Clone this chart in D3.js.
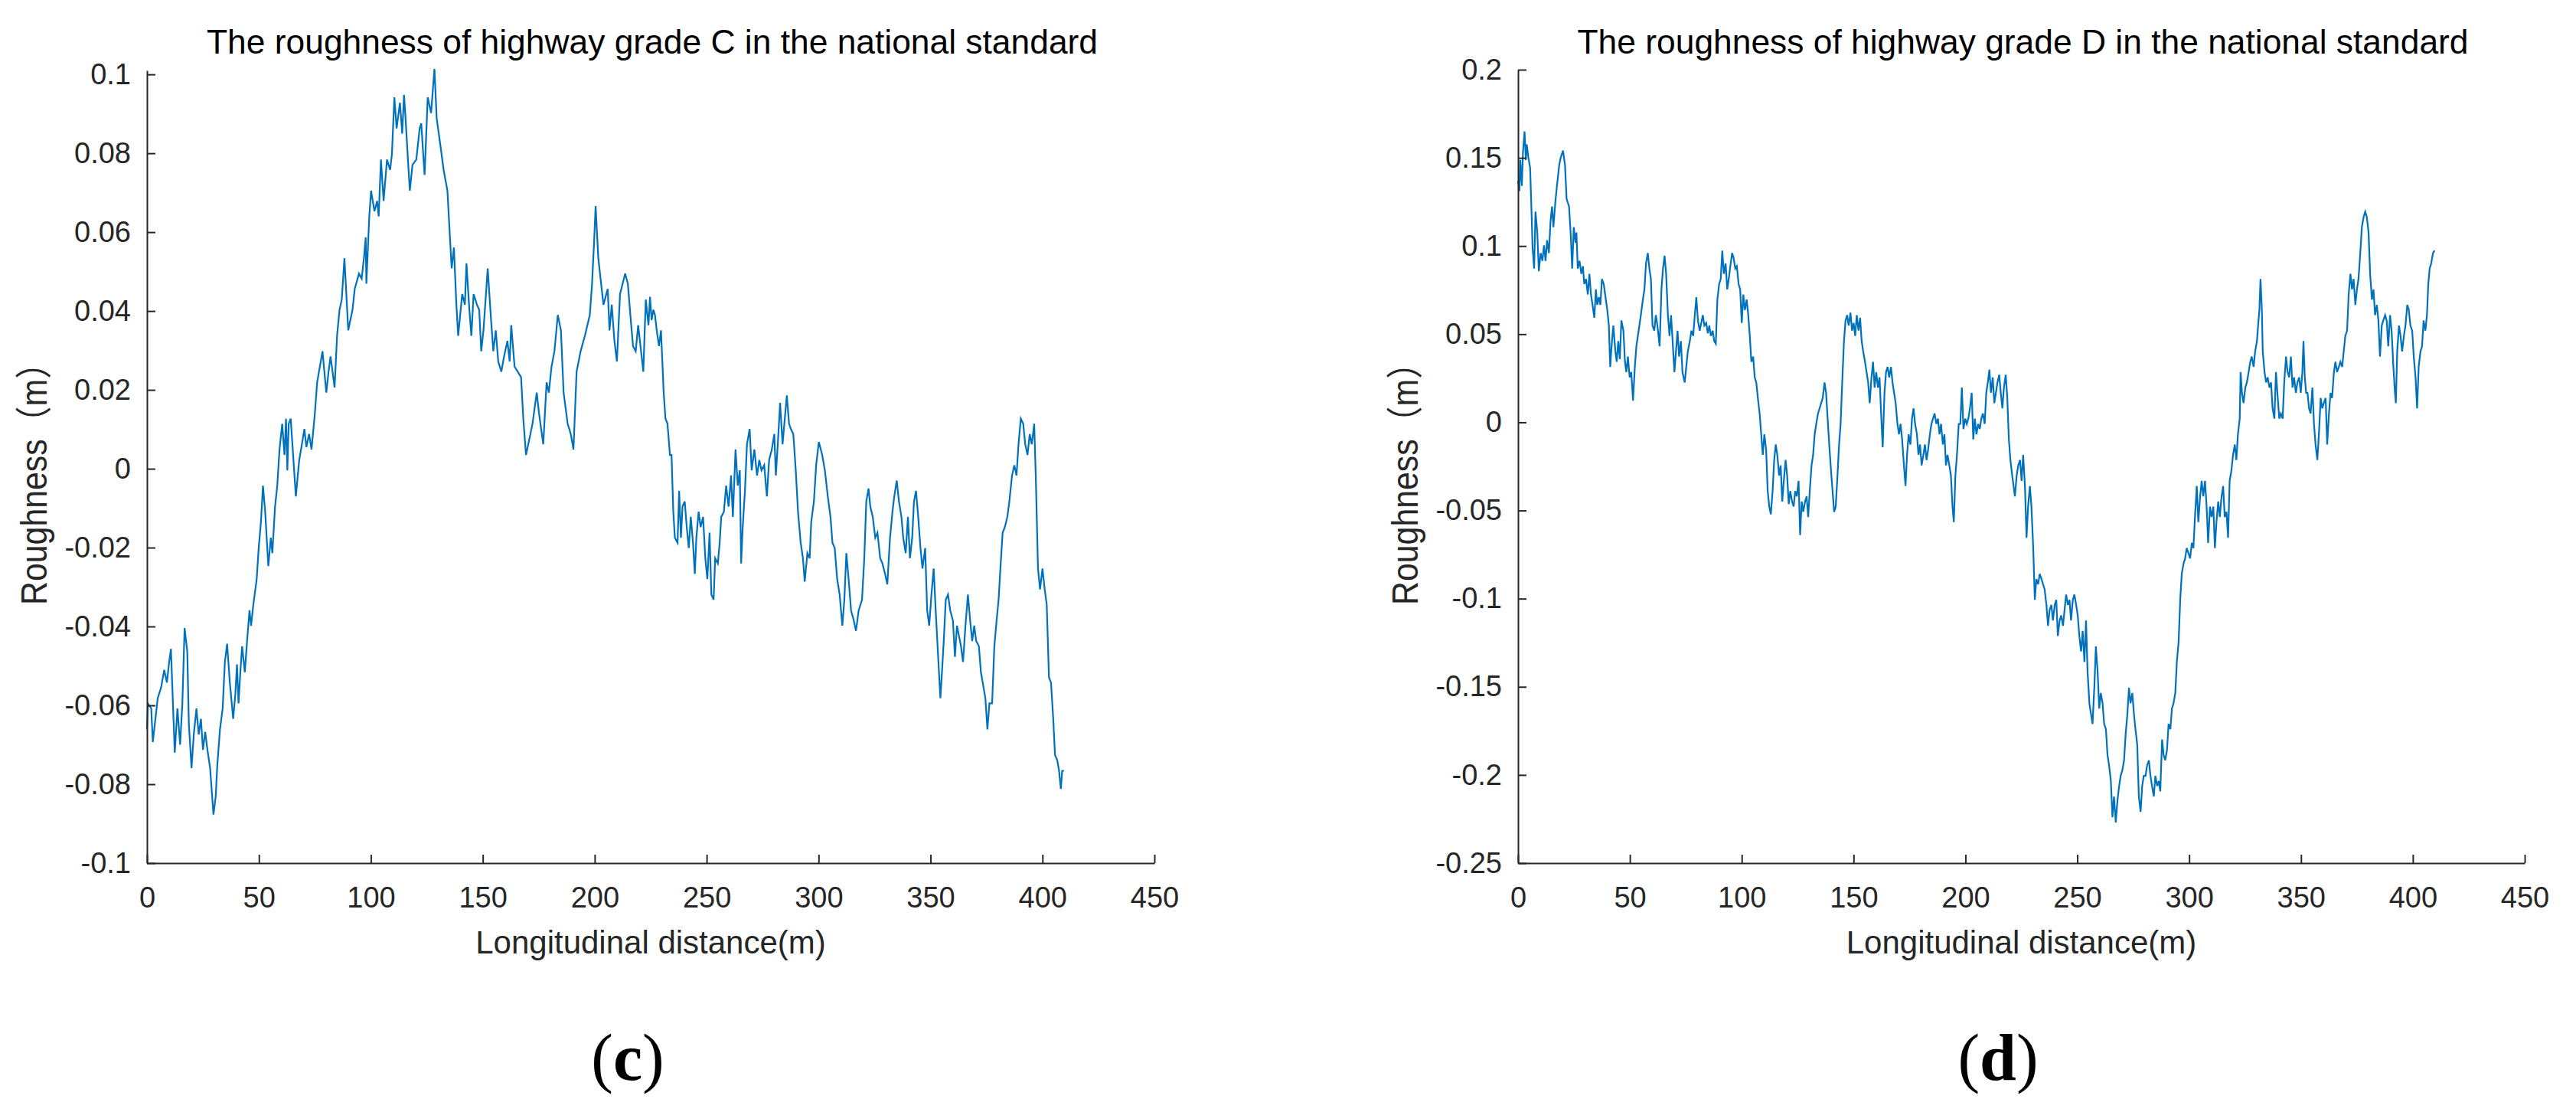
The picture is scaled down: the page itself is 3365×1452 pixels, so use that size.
<!DOCTYPE html>
<html><head><meta charset="utf-8">
<script src="https://cdn.jsdelivr.net/npm/d3@7"></script>
<style>
html,body{margin:0;padding:0;background:#fff;}
svg{display:block;}
</style></head>
<body>
<svg id="chart" width="3365" height="1452"></svg>
<script>
// ---------- data ----------
const xTicks = [0, 50, 100, 150, 200, 250, 300, 350, 400, 450];
const cTicks = [-0.1, -0.08, -0.06, -0.04, -0.02, 0, 0.02, 0.04, 0.06, 0.08, 0.1];
const dTicks = [-0.25, -0.2, -0.15, -0.1, -0.05, 0, 0.05, 0.1, 0.15, 0.2];
const titles = ["The roughness of highway grade C in the national standard",
                "The roughness of highway grade D in the national standard"];
const xLabel = "Longitudinal distance(m)";
const yLabel = "Roughness（m）";
const panelLetters = ["c", "d"];

// [longitudinal distance (m), roughness (m)]
const gradeC = [[0,-0.0661],[0.4,-0.0595],[1.9,-0.0608],[2.6,-0.0693],[4.8,-0.0582],[6.3,-0.0555],[7.7,-0.051],[8.9,-0.0542],[9.9,-0.049],[10.7,-0.0457],[12.4,-0.072],[13.6,-0.0608],[14.8,-0.07],[15.8,-0.0595],[16.8,-0.0404],[18,-0.0464],[18.7,-0.0647],[19.9,-0.0759],[20.9,-0.0674],[22.1,-0.0608],[23.1,-0.0674],[24.1,-0.0634],[25,-0.0713],[26,-0.0667],[27,-0.0713],[28.2,-0.0759],[29.7,-0.0877],[30.7,-0.0831],[31.4,-0.0752],[32.6,-0.0661],[33.8,-0.0608],[34.8,-0.049],[35.8,-0.0444],[37,-0.0542],[38.5,-0.0634],[39.5,-0.0569],[40.2,-0.0496],[40.9,-0.0595],[41.7,-0.0516],[42.5,-0.045],[43.7,-0.0516],[44.7,-0.0437],[45.8,-0.0359],[46.5,-0.0398],[47.5,-0.0345],[49,-0.028],[49.9,-0.0201],[50.9,-0.0135],[51.8,-0.0043],[52.8,-0.0109],[54.2,-0.0247],[55.3,-0.0175],[56,-0.0214],[57.2,-0.0096],[58.2,-0.0043],[59.2,0.0049],[60.4,0.0114],[61.4,0.0035],[62.1,0.0127],[62.7,-0.0004],[63.3,0.0114],[64.2,0.0127],[66.5,-0.007],[68,0.0022],[69.2,0.0062],[70.3,0.0101],[71.2,0.0055],[72.4,0.0088],[73.5,0.0049],[75,0.0141],[76,0.0219],[78.4,0.0298],[80.1,0.0193],[81.1,0.0246],[82,0.0285],[83.8,0.0206],[84.9,0.0337],[86,0.0403],[87,0.0429],[88.2,0.0534],[89.9,0.0351],[91.8,0.0403],[92.8,0.0456],[94.7,0.0495],[95.9,0.0482],[96.9,0.0534],[97.7,0.0587],[98,0.0469],[99.3,0.064],[100.1,0.0705],[101.6,0.0653],[102.8,0.0679],[103.5,0.064],[104.5,0.0784],[105.7,0.0679],[107.2,0.0784],[108.6,0.0758],[109.4,0.0797],[110.5,0.0942],[111.5,0.0863],[113,0.0928],[114,0.085],[114.8,0.0948],[115.5,0.0889],[116.7,0.0771],[117.4,0.0705],[118.6,0.0771],[120.3,0.0784],[121.8,0.0863],[122.5,0.0876],[124,0.0745],[125.4,0.0942],[126.9,0.0902],[128.4,0.1014],[129.4,0.0889],[131.3,0.081],[132.5,0.0758],[134.2,0.0705],[135.2,0.06],[136.1,0.0508],[137.1,0.0561],[138.2,0.0416],[139,0.0337],[140.8,0.0443],[142,0.0416],[142.7,0.0521],[144,0.0403],[144.9,0.0337],[145.9,0.0443],[147.4,0.0416],[148.4,0.0403],[149.3,0.0298],[150.3,0.0351],[152.2,0.0508],[153.7,0.0377],[154.7,0.0298],[155.8,0.0351],[156.9,0.0272],[158.3,0.0246],[159.5,0.0285],[161,0.0324],[162,0.0272],[162.7,0.0364],[164.2,0.0259],[165.6,0.0246],[167.1,0.0232],[168.1,0.0127],[169.3,0.0035],[170.3,0.0062],[172.2,0.0114],[174.1,0.0193],[175.1,0.0141],[177,0.0062],[178.5,0.0219],[179.5,0.0193],[180.7,0.0259],[182,0.0298],[183.5,0.039],[184.9,0.0351],[186.1,0.0193],[187.9,0.0114],[189.3,0.0088],[190.5,0.0049],[191.9,0.0246],[193.7,0.0298],[195.6,0.0337],[197.8,0.039],[198.8,0.0469],[199.7,0.0574],[200.4,0.0666],[201.6,0.0534],[202.6,0.0482],[203.9,0.0416],[205.8,0.0456],[206.6,0.0351],[207.6,0.0416],[208.8,0.0324],[209.9,0.0272],[211.3,0.0443],[213.6,0.0495],[214.8,0.0469],[216.1,0.0377],[217.1,0.0311],[218.3,0.0298],[219.4,0.0364],
[221.7,0.0246],[222.8,0.0429],[224,0.0364],[224.7,0.0436],[225.4,0.0377],[226.2,0.0403],[226.9,0.039],[227.7,0.0351],[228.7,0.0311],[229.6,0.0351],[230.2,0.0272],[230.8,0.0193],[231.6,0.0127],[232.5,0.0114],[233.6,0.0035],[234.3,0.0035],[235.1,-0.0109],[235.8,-0.0175],[237,-0.0188],[237.7,-0.0056],[238.5,-0.0175],[239.2,-0.0096],[240.2,-0.0083],[241.1,-0.0148],[242,-0.0201],[242.9,-0.0122],[243.9,-0.0188],[244.7,-0.0267],[245.4,-0.0175],[246.4,-0.0109],[247.3,-0.0148],[248.4,-0.0122],[249.4,-0.0227],[250.3,-0.028],[251.3,-0.0162],[252.1,-0.0319],[253.1,-0.0332],[253.8,-0.0227],[255,-0.024],[255.8,-0.0188],[256.5,-0.0122],[257.7,-0.0109],[258.7,-0.0043],[259.8,-0.0096],[260.9,-0.0017],[261.7,-0.0122],[262.9,0.0049],[263.9,-0.0043],[264.8,-0.0004],[265.4,-0.024],[266.1,-0.0148],[267.1,-0.0056],[268,0.0062],[269.2,0.0101],[270.1,-0.0004],[271.3,0.0049],[272.5,-0.0017],[273.5,0.0022],[274.5,-0.0004],[275.7,0.0009],[276.9,-0.007],[277.9,0.0022],[279.1,0.0049],[280.2,0.0088],[280.9,-0.0017],[281.9,0.0075],[282.8,0.0167],[283.9,0.0062],[284.9,0.0127],[285.8,0.0186],[286.8,0.0114],[287.6,0.0101],[288.7,0.0088],[289.8,-0.0004],[290.8,-0.0109],[292,-0.0188],[293,-0.0227],[293.8,-0.0286],[295,-0.0214],[296,-0.0227],[296.7,-0.0135],[297.9,-0.0083],[298.9,0.0009],[300.1,0.0068],[301.6,0.0035],[302.8,-0.0004],[304.1,-0.007],[305.3,-0.0122],[306.2,-0.0188],[307.2,-0.0201],[308.3,-0.028],[309.4,-0.0319],[310.6,-0.0398],[311.5,-0.0332],[312.4,-0.0214],[313.4,-0.028],[314.5,-0.0359],[315.7,-0.0385],[316.7,-0.0411],[317.9,-0.0359],[319.4,-0.0332],[320.4,-0.0227],[321.3,-0.0083],[322.3,-0.005],[323.1,-0.0096],[324.2,-0.0122],[325.3,-0.0175],[326.3,-0.0162],[327.5,-0.0227],[328.5,-0.024],[329.7,-0.0267],[330.7,-0.0293],[331.9,-0.0175],[333,-0.0109],[333.8,-0.007],[334.9,-0.003],[335.9,-0.0083],[337,-0.0122],[337.8,-0.0175],[338.9,-0.0214],[339.9,-0.0122],[340.8,-0.0227],[341.8,-0.0175],[342.6,-0.0083],[343.5,-0.0056],[344.5,-0.0122],[345.5,-0.0201],[346.4,-0.0253],[347.6,-0.0201],[348.5,-0.0359],[349.4,-0.0398],[350.4,-0.0319],[351.4,-0.0253],[352.3,-0.0359],[353.4,-0.0477],[354.4,-0.0582],[355.1,-0.0516],[355.9,-0.0437],[356.8,-0.0332],[357.8,-0.0319],[358.8,-0.0359],[360,-0.0385],[360.9,-0.0477],[361.8,-0.0398],[362.7,-0.0424],[363.6,-0.045],[364.5,-0.049],[365.6,-0.0398],[366.7,-0.0319],[367.7,-0.0385],[368.6,-0.0437],[369.5,-0.0398],[370.4,-0.0437],[371.6,-0.045],[372.5,-0.0516],[373.3,-0.0542],[374.5,-0.0582],[375.4,-0.0661],[376.3,-0.0595],[377.5,-0.0595],[378.5,-0.045],[379.5,-0.0385],[380.4,-0.0332],[381.2,-0.0253],[382.2,-0.0162],[383.2,-0.0148],[384.3,-0.0122],[385.2,-0.0083],[386.4,-0.0017],[387.4,0.0009],[388.4,-0.0017],[389.3,0.0062],[390.3,0.0127],[391.4,0.0114],[392.3,0.0062],[393.3,0.0035],[394.3,0.0088],[395.2,0.0062],[396.3,0.0114],[397,-0.0017],[398,-0.0253],[398.9,-0.0306],[400,-0.0253],[401,-0.0306],[401.9,-0.0345],[402.9,-0.0529],[403.8,-0.0542],[404.8,-0.0634],[405.6,-0.0726],[406.6,-0.0739],[407.4,-0.0766],[408.2,-0.0812],[408.8,-0.0766],[409.6,-0.0766]];

const gradeD = [[0,0.1371],[0.6,0.1312],[1,0.1488],[1.7,0.1341],[2.2,0.1532],[2.9,0.165],[3.5,0.1488],[3.9,0.1576],[4.6,0.1503],[5.4,0.1444],[6.1,0.1165],[6.5,0.0989],[7.2,0.0872],[7.8,0.1195],[8.6,0.1077],[9.3,0.0857],[10.1,0.096],[10.9,0.0916],[11.6,0.1004],[12.3,0.0916],[13,0.1033],[13.8,0.096],[14.5,0.1136],[15.2,0.1224],[15.8,0.1107],[16.7,0.1253],[17.4,0.1341],[18.4,0.1459],[19.1,0.1503],[20.1,0.1541],[21,0.1459],[21.7,0.1268],[22.8,0.1224],[23.5,0.1077],[24.2,0.0872],[24.9,0.1107],[25.7,0.1018],[26.1,0.1077],[26.7,0.0872],[27.5,0.0916],[28.3,0.0842],[29,0.0886],[29.6,0.0784],[30.4,0.0813],[31.2,0.0725],[31.9,0.0842],[32.6,0.0725],[33.3,0.0666],[34.1,0.0593],[34.8,0.0754],[35.4,0.0666],[36.1,0.071],[36.8,0.0666],[37.5,0.0813],[38.3,0.0784],[39.1,0.071],[39.9,0.0637],[40.6,0.0549],[41.2,0.0314],[41.9,0.0446],[42.6,0.0549],[43.5,0.0402],[44.1,0.0343],[44.8,0.0461],[45.5,0.0358],[46.2,0.0578],[47.1,0.052],[47.8,0.0343],[48.4,0.0285],[49.1,0.0373],[49.9,0.0255],[50.6,0.0285],[51.4,0.0123],[52.2,0.0314],[52.9,0.0431],[53.9,0.052],[54.9,0.0608],[55.8,0.0696],[56.5,0.0754],[57.2,0.0901],[58,0.096],[58.7,0.0872],[59.4,0.0813],[60.1,0.0549],[60.9,0.052],[61.6,0.0608],[62.3,0.0549],[63.3,0.0431],[64.1,0.0754],[64.8,0.0872],[65.5,0.0945],[66.2,0.0842],[67,0.0608],[67.7,0.049],[68.4,0.0608],[69.1,0.0461],[69.9,0.0285],[70.6,0.0402],[71.3,0.052],[72,0.0373],[72.8,0.0461],[73.5,0.0285],[74.5,0.0226],[75.2,0.0314],[75.9,0.0402],[76.8,0.0461],[77.5,0.052],[78.3,0.049],[79,0.0608],[79.7,0.071],[80.4,0.0578],[81.2,0.052],[81.9,0.0564],[82.6,0.0608],[83.3,0.0549],[84.1,0.0564],[84.8,0.0505],[85.5,0.0549],[86.2,0.049],[87,0.052],[87.7,0.0461],[88.4,0.0446],[89.1,0.0696],[89.9,0.0784],[90.6,0.0813],[91.3,0.0974],[92,0.0842],[92.8,0.0901],[93.5,0.0754],[94.2,0.0813],[94.9,0.0886],[95.7,0.096],[96.4,0.093],[97.1,0.0872],[97.8,0.0886],[98.6,0.0784],[99.3,0.0754],[100,0.0564],[100.7,0.0725],[101.4,0.0637],[102.2,0.0696],[102.9,0.0608],[103.6,0.049],[104.3,0.0343],[105.1,0.0373],[105.8,0.0255],[106.5,0.0226],[107.2,0.0138],[108,0.005],[108.7,-0.0068],[109.4,-0.0185],[110.1,-0.0068],[110.9,-0.0156],[111.6,-0.039],[112.3,-0.0478],[113,-0.0522],[113.8,-0.039],[114.5,-0.0214],[115.2,-0.0126],[115.9,-0.0185],[116.7,-0.0302],[117.4,-0.0244],[118.1,-0.0449],[118.8,-0.0332],[119.6,-0.0214],[120.3,-0.0302],[121,-0.0464],[121.7,-0.039],[122.5,-0.0449],[123.2,-0.0478],[123.9,-0.039],[124.6,-0.042],[125.4,-0.0332],[126.1,-0.064],[126.8,-0.0449],[127.5,-0.0508],[128.3,-0.0449],[129,-0.042],[129.7,-0.0537],[130.4,-0.039],[131.2,-0.0244],[131.9,-0.0185],[132.6,-0.0068],[133.3,-0.0009],[134.1,0.005],[134.8,0.0079],[135.5,0.0109],[136.2,0.0138],[137,0.0226],[137.7,0.0167],[138.4,0.0021],[139.1,-0.0126],[139.9,-0.0273],[140.6,-0.039],[141.3,-0.0508],[142,-0.0478],[142.8,-0.0302],[143.5,-0.0126],[144.2,-0.0009],[144.9,0.0226],[145.7,0.0461],[146.4,0.0578],[147.1,0.0608],[147.8,0.0549],[148.6,0.0622],[149.3,0.052],[150,0.0564],[150.7,0.049],[151.4,0.0608],[152.2,0.052],[152.9,0.0593],[153.6,0.0461],[154.3,0.0402],[155.1,0.0343],[155.8,0.0285],[156.5,0.0226],[157.2,0.0109],[158,0.0255],[158.7,0.0343],[159.4,0.0197],[160.1,0.0285],[160.9,0.0197],[161.6,0.0255],[162.3,0.005],[163,-0.0141],[163.8,0.0167],[164.5,0.0285],[165.2,0.0314],[165.9,0.0255],[166.7,0.0314],[167.4,0.0226],[168.1,0.0167],[168.8,0.0109],[169.6,-0.0009],[170.3,-0.0068],[171,-0.0009],[171.7,-0.0097],[172.5,-0.0244],[173.2,-0.0361],[173.9,-0.0185],[174.6,-0.0068],[175.4,-0.0126],[176.1,0.0021],[176.8,0.0079],[177.5,-0.0009],[178.3,-0.0068],[179,-0.0185],[179.7,-0.0126],[180.4,-0.0244],[181.2,-0.0185],[181.9,-0.0126],[182.6,-0.0214],[183.3,-0.0156],[184.1,-0.0068],[184.8,-0.0009],[185.5,0.0021],[186.2,0.005],[187,-0.0009],[187.7,0.0021],[188.4,-0.0068],[189.1,-0.0009],[189.9,-0.0126],[190.6,-0.0068],[191.3,-0.0244],[192,-0.0185],[192.8,-0.0244],[193.5,-0.0302],[194.2,-0.0478],[194.8,-0.0566],[195.5,-0.0302],[196.2,-0.0185],[197,-0.0009],[197.7,-0.0009],[198.4,0.0197],[199.1,-0.0038],[199.9,0.0021],[200.6,-0.0009],[201.3,0.0021],[202,0.0079],[202.8,0.0167],[203.5,-0.0097],[204.2,0.0021],[204.9,-0.0068],[205.7,-0.0009],[206.4,-0.0038],[207.1,0.0021],[207.8,0.005],[208.6,-0.0009],[209.3,0.0167],[210,0.0226],[210.7,0.0299],[211.4,0.0167],[212.2,0.0255],[212.9,0.0109],[213.6,0.0167],[214.3,0.0226],[215.1,0.027],[215.8,0.0167],[216.5,0.0079],[217.2,0.0197],[218,0.027],[218.7,0.0138],[219.4,-0.0097],[220.1,-0.0214],[220.9,-0.0302],
[222.1,-0.042],[222.9,-0.0302],[223.6,-0.0244],[224.4,-0.0214],[225.1,-0.0332],[225.8,-0.0185],[226.6,-0.0361],[227.3,-0.0655],[228,-0.0478],[228.8,-0.0361],[229.5,-0.0478],[230.3,-0.0713],[231,-0.1007],[231.7,-0.0889],[232.5,-0.0919],[233.2,-0.086],[234,-0.0889],[234.7,-0.0919],[235.4,-0.0948],[236.2,-0.1036],[236.9,-0.1154],[237.6,-0.1065],[238.4,-0.1036],[239.1,-0.1124],[239.9,-0.1036],[240.6,-0.1007],[241.3,-0.1212],[242.1,-0.1124],[242.8,-0.1095],[243.6,-0.1154],[244.3,-0.1065],[245,-0.0977],[245.8,-0.1036],[246.5,-0.1007],[247.2,-0.1124],[248,-0.1007],[248.7,-0.0977],[249.5,-0.1036],[250.2,-0.1095],[250.9,-0.1212],[251.7,-0.13],[252.4,-0.1183],[253.2,-0.1359],[253.9,-0.1124],[254.6,-0.1418],[255.4,-0.1594],[256.1,-0.1652],[256.8,-0.1711],[257.6,-0.1506],[258.3,-0.1271],[259.1,-0.1418],[259.8,-0.1623],[260.5,-0.1535],[261.3,-0.1594],[262,-0.1711],[262.8,-0.1741],[263.5,-0.1887],[264.2,-0.1946],[265,-0.2034],[265.7,-0.224],[266.4,-0.2122],[267.2,-0.2269],[267.9,-0.2151],[268.7,-0.2063],[269.4,-0.2005],[270.1,-0.1975],[270.9,-0.1917],[271.6,-0.177],[272.4,-0.1652],[273.1,-0.1506],[273.8,-0.1594],[274.6,-0.1535],[275.3,-0.1652],[276,-0.1741],[276.8,-0.1829],[277.5,-0.2122],[278.3,-0.221],[279,-0.2063],[279.7,-0.2005],[280.5,-0.2005],[281.2,-0.1946],[282,-0.1917],[282.7,-0.2005],[283.4,-0.2063],[284.2,-0.2122],[284.9,-0.2005],[285.7,-0.2063],[286.4,-0.2034],[287.1,-0.2093],[287.9,-0.1799],[288.6,-0.1887],[289.3,-0.1917],[290.1,-0.1858],[290.8,-0.1711],[291.6,-0.1741],[292.3,-0.1623],[293,-0.1594],[293.8,-0.1535],[294.5,-0.1359],[295.3,-0.1242],[296,-0.1007],[296.7,-0.086],[297.5,-0.0801],[298.2,-0.0772],[298.9,-0.0713],[299.7,-0.0743],[300.4,-0.0772],[301.2,-0.0684],[301.9,-0.0713],[302.6,-0.0537],[303.4,-0.0361],[304.1,-0.0566],[304.9,-0.042],[305.6,-0.0332],[306.3,-0.042],[307.1,-0.0332],[307.8,-0.0478],[308.5,-0.0684],[309.3,-0.0478],[310,-0.0537],[310.8,-0.0478],[311.5,-0.0713],[312.2,-0.0566],[313,-0.0449],[313.7,-0.0537],[314.5,-0.042],[315.2,-0.0361],[315.9,-0.0537],[316.7,-0.0508],[317.4,-0.0655],[318.1,-0.0332],[318.9,-0.0273],[319.6,-0.0185],[320.4,-0.0126],[321.1,-0.0214],[321.8,-0.0068],[322.6,0.0021],[323,0.0285],[323.6,0.0167],[324.3,0.0109],[325.1,0.0197],[325.8,0.0226],[326.6,0.0285],[327.3,0.0343],[328,0.0373],[328.8,0.0314],[329.5,0.0402],[330.3,0.0461],[331,0.0578],[331.4,0.0637],[331.9,0.0813],[332.5,0.0637],[332.9,0.0402],[333.7,0.0285],[334.4,0.0226],[335.1,0.0255],[335.9,0.0197],[336.6,0.0226],[337.3,0.0079],[338.1,0.0021],[338.8,0.0285],[339.6,0.0138],[340.3,0.0021],[341,0.005],[341.8,0.0021],[342.5,0.0226],[343.3,0.0373],[344,0.0285],[344.7,0.0255],[345.5,0.0373],[346.2,0.0197],[346.9,0.0255],[347.7,0.0167],[348.4,0.0226],[349.2,0.0255],[349.9,0.0167],[350.6,0.0285],[351.1,0.0461],[351.7,0.0255],[352.3,0.0167],[352.9,0.0167],[353.6,0.0079],[354.3,0.005],[355.1,0.0197],[355.8,-0.0009],[356.5,-0.0126],[357.3,-0.0214],[358,-0.0068],[358.8,0.0138],[359.5,0.0079],[360.2,0.0109],[361,0.0138],[361.7,-0.0126],[362.5,0.005],[363.2,0.0167],[363.9,0.0138],[364.7,0.0285],[365.4,0.0343],[366.1,0.0285],[366.9,0.0314],[367.6,0.0343],[368.4,0.0314],[369.1,0.0402],[369.8,0.049],[370.6,0.052],[371.3,0.0725],[372.1,0.0842],[372.8,0.0754],[373.5,0.0813],[374.3,0.0666],[375,0.0754],[375.7,0.0813],[376.5,0.096],[377.2,0.1107],[378,0.1165],[378.7,0.1195],[379.4,0.1165],[380.2,0.1077],[380.9,0.0842],[381.7,0.0696],[382.4,0.0754],[383.1,0.0608],[383.9,0.0666],[384.6,0.0578],[385.3,0.0373],[386.1,0.0549],[386.8,0.0578],[387.6,0.0608],[388.3,0.0578],[389,0.0431],[389.8,0.0608],[390.5,0.052],[391.3,0.0314],[392,0.0167],[392.4,0.0109],[393,0.0402],[393.8,0.0549],[394.5,0.049],[395.2,0.0402],[396,0.049],[396.7,0.0549],[397.5,0.0666],[398.2,0.0637],[398.9,0.0549],[399.7,0.052],[400.4,0.0373],[401.2,0.0255],[401.9,0.0079],[402.6,0.0314],[403.4,0.0402],[404.1,0.0431],[404.8,0.0578],[405.6,0.052],[406.3,0.0608],[406.9,0.0784],[407.5,0.0872],[408.2,0.0901],[409,0.096],[409.7,0.0974]];

// ---------- layout ----------
const W = 3365, H = 1452;
const INK = "#262626", LINE = "#0072BD";
const SANS = "'Liberation Sans', Arial, Helvetica, sans-serif";
const panels = [
  {data: gradeC, yTicks: cTicks, yDomain: [-0.1, 0.101], left: 192, right: 1508, top: 92, bottom: 1127,
   title: titles[0], letter: panelLetters[0], letterX: 820, yLabelX: 61},
  {data: gradeD, yTicks: dTicks, yDomain: [-0.25, 0.2], left: 1983, right: 3298, top: 91, bottom: 1127,
   title: titles[1], letter: panelLetters[1], letterX: 2610, yLabelX: 1852}
];
const fmt = v => String(+v.toFixed(4));

const svg = d3.select("#chart").attr("width", W).attr("height", H);
svg.append("rect").attr("width", W).attr("height", H).attr("fill", "#fff");

panels.forEach(p => {
  const x = d3.scaleLinear().domain([0, 450]).range([p.left, p.right]);
  const y = d3.scaleLinear().domain(p.yDomain).range([p.bottom, p.top]);
  const g = svg.append("g");

  // line
  g.append("path")
    .datum(p.data)
    .attr("fill", "none")
    .attr("stroke", LINE)
    .attr("stroke-width", 2.2)
    .attr("stroke-linejoin", "miter")
    .attr("d", d3.line().x(d => x(d[0])).y(d => y(d[1])));

  // axes
  const ax = g.append("g").attr("transform", `translate(0,${p.bottom})`)
    .call(d3.axisBottom(x).tickValues(xTicks).tickFormat(fmt).tickSizeInner(-11).tickSizeOuter(0).tickPadding(31));
  const ay = g.append("g").attr("transform", `translate(${p.left},0)`)
    .call(d3.axisLeft(y).tickValues(p.yTicks).tickFormat(fmt).tickSizeInner(-11).tickSizeOuter(0).tickPadding(21));
  [ax, ay].forEach(a => {
    a.attr("font-family", SANS).attr("font-size", 38);
    a.selectAll("path.domain").attr("stroke", INK).attr("stroke-width", 2);
    a.selectAll(".tick line").attr("stroke", INK).attr("stroke-width", 2);
    a.selectAll(".tick text").attr("fill", INK);
  });

  const cx = (p.left + p.right) / 2;
  // title
  g.append("text")
    .attr("x", cx + 2).attr("y", 70)
    .attr("text-anchor", "middle")
    .attr("font-family", SANS).attr("font-size", 44).attr("fill", "#000")
    .attr("textLength", 1164).attr("lengthAdjust", "spacingAndGlyphs")
    .text(p.title);
  // x label
  g.append("text")
    .attr("x", cx).attr("y", 1245)
    .attr("text-anchor", "middle")
    .attr("font-family", SANS).attr("font-size", 42).attr("fill", INK)
    .text(xLabel);
  // y label
  g.append("text")
    .attr("transform", `translate(${p.yLabelX},621) rotate(-90)`)
    .attr("text-anchor", "middle")
    .attr("font-family", "'Liberation Sans', 'Noto Sans CJK SC', sans-serif")
    .attr("font-size", 48).attr("fill", INK)
    .attr("textLength", 338).attr("lengthAdjust", "spacingAndGlyphs")
    .text(yLabel);
  // panel letter
  const t = g.append("text")
    .attr("x", p.letterX).attr("y", 1410)
    .attr("text-anchor", "middle")
    .attr("font-family", "'Liberation Serif', 'Times New Roman', serif")
    .attr("font-size", 86).attr("fill", "#000");
  t.append("tspan").text("(");
  t.append("tspan").attr("font-weight", "bold").text(p.letter);
  t.append("tspan").text(")");
});
</script>
</body></html>
